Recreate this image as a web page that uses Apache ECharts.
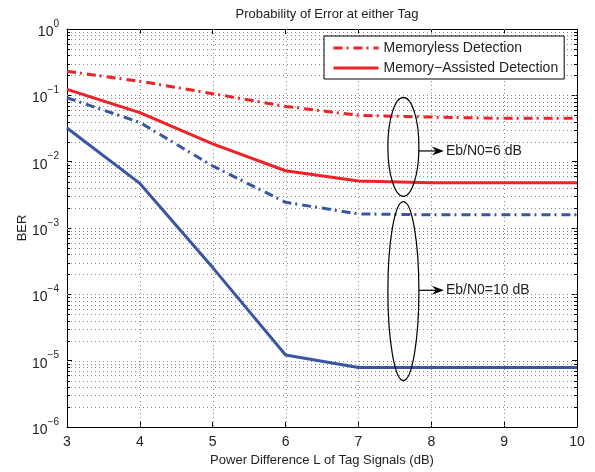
<!DOCTYPE html>
<html>
<head>
<meta charset="utf-8">
<script src="https://cdn.jsdelivr.net/npm/echarts@6/dist/echarts.min.js"></script>
<style>html,body{margin:0;padding:0;background:#fff}#c{width:595px;height:472px}</style>
</head>
<body>
<div id="c"></div>
<script>
const xVals = [3, 4, 5, 6, 7, 8, 9, 10];
const memorylessSNR6 = [0.23, 0.163, 0.106, 0.068, 0.05, 0.047, 0.045, 0.045];
const memoryAssistedSNR6 = [0.123, 0.055, 0.0186, 0.0073, 0.0051, 0.0048, 0.0048, 0.0048];
const memorylessSNR10 = [0.092, 0.039, 0.0086, 0.00244, 0.00163, 0.00158, 0.00158, 0.00158];
const memoryAssistedSNR10 = [0.0322, 0.0047, 0.000253, 1.22e-5, 7.9e-6, 7.9e-6, 7.9e-6, 7.9e-6];
const xTicks = [3, 4, 5, 6, 7, 8, 9, 10];
const yDecades = [1e-6, 1e-5, 1e-4, 1e-3, 1e-2, 1e-1, 1];
const minorMult = [2, 3, 4, 5, 6, 7, 8, 9];
const legendNames = ['Memoryless Detection', 'Memory\u2212Assisted Detection'];
const annotations = [
  {label: 'Eb/N0=6 dB', x: 7.617, top: 0.093, bottom: 0.003, arrowY: 0.0145},
  {label: 'Eb/N0=10 dB', x: 7.617, top: 0.0025, bottom: 0.000005, arrowY: 0.000115}
];

const RED = '#ee2328';
const BLUE = '#3a56a3';
const dashDot = [9, 4, 2, 5];
const FONT = 'Liberation Sans, Arial, sans-serif';

function pairs(ys) { return xVals.map((x, i) => [x, ys[i]]); }

const chart = echarts.init(document.getElementById('c'), null, {renderer: 'canvas'});

function supLabel(v) {
  const e = Math.round(Math.log10(v));
  const s = e < 0 ? '\u2212' + (-e) : String(e);
  return '{b|10}{s|' + s + '}';
}

const gridLineValues = [];
yDecades.forEach(d => { if (d < 1) minorMult.forEach(m => gridLineValues.push(d * m)); });

const option = {
  animation: false,
  backgroundColor: '#fff',
  title: {
    text: 'Probability of Error at either Tag',
    left: 322, top: 3, textAlign: 'center',
    textStyle: {fontFamily: FONT, fontSize: 13, fontWeight: 'normal', color: '#222'}
  },
  grid: {left: 67, right: 18, top: 29, bottom: 41, containLabel: false},
  legend: {
    data: legendNames,
    orient: 'vertical',
    left: 324, top: 36,
    itemWidth: 45, itemHeight: 12, itemGap: 6,
    padding: [5, 6, 4, 8],
    backgroundColor: '#fff',
    borderColor: '#000', borderWidth: 1,
    itemStyle: {opacity: 0},
    lineStyle: {width: 3},
    textStyle: {fontFamily: FONT, fontSize: 14, color: '#222'},
    selectedMode: false
  },
  xAxis: [{
    type: 'value', min: 3, max: 10, interval: 1,
    name: 'Power Difference L of Tag Signals (dB)', nameLocation: 'middle', nameGap: 27,
    nameTextStyle: {fontFamily: FONT, fontSize: 13, color: '#222'},
    axisLine: {lineStyle: {color: '#000', width: 1}},
    axisTick: {inside: true, length: 5, lineStyle: {color: '#000'}},
    axisLabel: {fontFamily: FONT, fontSize: 14, color: '#222', margin: 8},
    splitLine: {show: false}
  }, {
    type: 'value', min: 3, max: 10, interval: 1, position: 'top',
    axisLine: {lineStyle: {color: '#000', width: 1}},
    axisTick: {inside: true, length: 5, lineStyle: {color: '#000'}},
    axisLabel: {show: false}, splitLine: {show: false}
  }],
  yAxis: [{
    type: 'log', min: 1e-6, max: 1, logBase: 10,
    name: 'BER', nameLocation: 'middle', nameGap: 38, nameRotate: 90, nameMoveOverlap: false,
    nameTextStyle: {fontFamily: FONT, fontSize: 13, color: '#222'},
    axisLine: {show: true, lineStyle: {color: '#000', width: 1}},
    axisTick: {inside: true, length: 5, lineStyle: {color: '#000'}},
    axisLabel: {
      formatter: supLabel, margin: 8,
      rich: {
        b: {fontFamily: FONT, fontSize: 14, color: '#222', padding: [6, 0, 0, 0]},
        s: {fontFamily: FONT, fontSize: 10, color: '#222', verticalAlign: 'top', padding: [0, 0, 6, 0]}
      }
    },
    splitLine: {show: false}
  }, {
    type: 'log', min: 1e-6, max: 1, logBase: 10, position: 'right',
    axisLine: {show: true, lineStyle: {color: '#000', width: 1}},
    axisTick: {inside: true, length: 5, lineStyle: {color: '#000'}},
    axisLabel: {show: false}, splitLine: {show: false}
  }],
  series: [
    {
      type: 'custom', name: 'grid', silent: true, z: 1,
      xAxisIndex: 0, yAxisIndex: 0,
      data: [[3, 1]],
      renderItem: function (params, api) {
        const children = [];
        const dotted = {stroke: '#8a8a8a', lineWidth: 1, lineDash: [1, 3]};
        const x0 = api.coord([3, 1])[0], x1 = api.coord([10, 1])[0];
        const yTop = api.coord([3, 1])[1], yBot = api.coord([3, 1e-6])[1];
        xTicks.forEach(t => {
          if (t === 3 || t === 10) return;
          const px = Math.round(api.coord([t, 1])[0]) + 0.5;
          children.push({type: 'line', shape: {x1: px, y1: yTop, x2: px, y2: yBot}, style: dotted});
        });
        yDecades.concat(gridLineValues).forEach(v => {
          if (v === 1 || v === 1e-6) return;
          const py = Math.round(api.coord([3, v])[1]) + 0.5;
          children.push({type: 'line', shape: {x1: x0, y1: py, x2: x1, y2: py}, style: dotted});
        });
        gridLineValues.forEach(v => {
          const py = Math.round(api.coord([3, v])[1]) + 0.5;
          children.push({type: 'line', shape: {x1: x0, y1: py, x2: x0 + 3, y2: py}, style: {stroke: '#000', lineWidth: 1}});
          children.push({type: 'line', shape: {x1: x1 - 3, y1: py, x2: x1, y2: py}, style: {stroke: '#000', lineWidth: 1}});
        });
        return {type: 'group', children: children};
      }
    },
    {
      name: legendNames[0], type: 'line', data: pairs(memorylessSNR6), symbol: 'none', z: 3,
      lineStyle: {color: RED, width: 3, type: dashDot, cap: 'butt'}, itemStyle: {color: RED}
    },
    {
      name: legendNames[1], type: 'line', data: pairs(memoryAssistedSNR6), symbol: 'none', z: 3,
      lineStyle: {color: RED, width: 3, type: 'solid'}, itemStyle: {color: RED}
    },
    {
      name: 'memorylessSNR10', type: 'line', data: pairs(memorylessSNR10), symbol: 'none', z: 3,
      lineStyle: {color: BLUE, width: 3, type: dashDot, cap: 'butt'}, itemStyle: {color: BLUE}
    },
    {
      name: 'memoryAssistedSNR10', type: 'line', data: pairs(memoryAssistedSNR10), symbol: 'none', z: 3,
      lineStyle: {color: BLUE, width: 3, type: 'solid'}, itemStyle: {color: BLUE}
    }
  ]
};
chart.setOption(option);

// annotations placed via the axis scales
const gfx = [];
annotations.forEach(a => {
  const pTop = chart.convertToPixel({gridIndex: 0}, [a.x, a.top]);
  const pBot = chart.convertToPixel({gridIndex: 0}, [a.x, a.bottom]);
  const pR = chart.convertToPixel({gridIndex: 0}, [a.x + 0.213, a.arrowY]);
  const pL = chart.convertToPixel({gridIndex: 0}, [a.x, a.arrowY]);
  const cx = pTop[0], cy = (pTop[1] + pBot[1]) / 2, ry = (pBot[1] - pTop[1]) / 2;
  const rx = pR[0] - cx;
  gfx.push({type: 'ellipse', z: 10, shape: {cx: cx, cy: cy, rx: rx, ry: ry}, style: {fill: null, stroke: '#000', lineWidth: 1.2}});
  const ay = pL[1];
  const axStart = cx + rx, axEnd = axStart + 25;
  gfx.push({type: 'line', z: 10, shape: {x1: axStart, y1: ay, x2: axEnd - 4, y2: ay}, style: {stroke: '#000', lineWidth: 1.2}});
  gfx.push({type: 'polygon', z: 10, shape: {points: [[axEnd, ay], [axEnd - 12, ay - 4.5], [axEnd - 8, ay], [axEnd - 12, ay + 4.5]]}, style: {fill: '#000'}});
  gfx.push({type: 'text', z: 10, x: axEnd + 2, y: ay, style: {text: a.label, fill: '#222', font: '14px "Liberation Sans", Arial, sans-serif', verticalAlign: 'middle', align: 'left'}});
});
chart.setOption({graphic: gfx});
</script>
</body>
</html>
